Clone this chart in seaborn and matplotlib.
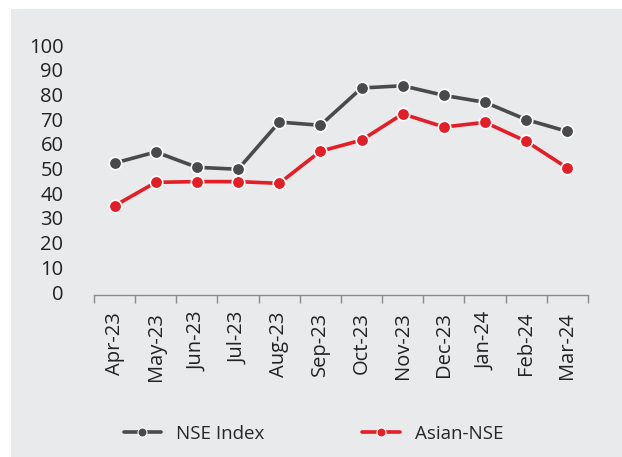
import numpy as np
import pandas as pd
import matplotlib.pyplot as plt
from matplotlib.lines import Line2D
import seaborn as sns

# dane
miesiace = ['Apr-23', 'May-23', 'Jun-23', 'Jul-23', 'Aug-23', 'Sep-23',
            'Oct-23', 'Nov-23', 'Dec-23', 'Jan-24', 'Feb-24', 'Mar-24']
nse_index = [52.2, 56.7, 50.5, 49.7, 68.8, 67.5, 82.6, 83.5, 79.6, 76.8, 69.8, 65.0]
asian_nse = [34.9, 44.4, 44.7, 44.7, 44.0, 57.0, 61.5, 72.1, 66.8, 68.7, 61.0, 50.2]
serie = ['NSE Index', 'Asian-NSE']
kolory = ['#4a4a4c', '#e31e26']

df = pd.DataFrame({
    'miesiac': miesiace * 2,
    'wartosc': nse_index + asian_nse,
    'seria': [serie[0]] * len(miesiace) + [serie[1]] * len(miesiace),
})

sns.set_style('white')
plt.rcParams['font.family'] = ['Open Sans', 'DejaVu Sans']
bg = '#e9eaec'

fig = plt.figure(figsize=(6.22, 4.57), dpi=100)
fig.patch.set_facecolor('white')
# szare tlo z bialym marginesem
fig.patches.append(plt.Rectangle((11 / 622, 0), 1, 1 - 9 / 457, transform=fig.transFigure,
                                 facecolor=bg, edgecolor='none', zorder=-1))
ax = fig.add_axes([94 / 622, 1 - 295 / 457, (588 - 94) / 622, (295 - 45) / 457])
ax.set_facecolor(bg)

sns.lineplot(data=df, x='miesiac', y='wartosc', hue='seria', palette=kolory,
             marker='o', markersize=9, markeredgecolor='white', markeredgewidth=1.2,
             linewidth=2.6, sort=False, ax=ax, legend=False)

ax.set_xlim(-0.5, len(miesiace) - 0.5)
ax.set_ylim(-1.2, 100)
ax.set_yticks(range(0, 101, 10))
ax.set_xticks(np.arange(len(miesiace)))
ax.set_xticklabels(miesiace, rotation=90, fontsize=14.5, color='#222222')
ax.set_xticks(np.arange(-0.5, len(miesiace)), minor=True)
ax.tick_params(axis='x', which='major', bottom=False, length=0, pad=12)
ax.tick_params(axis='x', which='minor', bottom=True, length=6, width=1,
               color='#8a8a8a', direction='out')
ax.tick_params(axis='y', left=False, length=0, pad=22, labelsize=14.5, labelcolor='#222222')
for s in ['top', 'right', 'left']:
    ax.spines[s].set_visible(False)
ax.spines['bottom'].set_color('#8a8a8a')
ax.spines['bottom'].set_linewidth(1)
ax.set_xlabel('')
ax.set_ylabel('')

uchwyty = [Line2D([], [], color=k, linewidth=2.6, marker='o', markersize=6.5,
                  markeredgecolor='white', markeredgewidth=0.8) for k in kolory]
ax.legend(uchwyty, serie, loc='center', bbox_to_anchor=(0.5 * (11 + 622) / 622 - 0.005, 1 - 434 / 457),
          bbox_transform=fig.transFigure, ncol=2, frameon=False, fontsize=13.5,
          handlelength=2.0, columnspacing=5.2, handletextpad=0.8)

plt.savefig('out.png', dpi=100)
